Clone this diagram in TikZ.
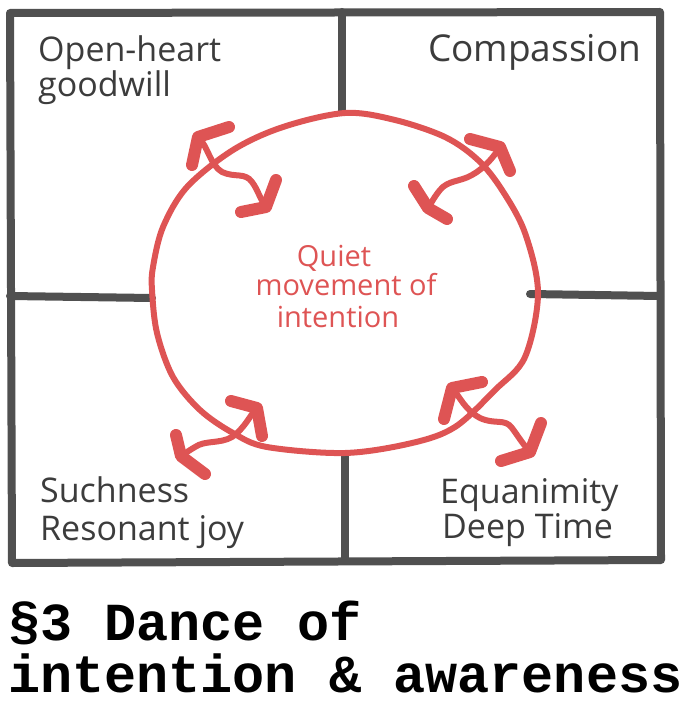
\documentclass[tikz,border=0pt]{standalone}
\usepackage{fontspec}
\setmainfont{Open Sans}
\newfontfamily\capfont{Liberation Mono}
\definecolor{boxgray}{RGB}{80,80,80}
\definecolor{inkgray}{RGB}{60,60,60}
\definecolor{sketchred}{RGB}{222,84,84}
\tikzset{
  frame/.style={draw=boxgray, line width=8pt, line cap=round, line join=round},
  ring/.style={draw=sketchred, line width=6pt},
  dance/.style={draw=sketchred, line width=6pt, line cap=round},
  barb/.style={draw=sketchred, line width=12pt, line cap=round, line join=round},
  hand/.style={text=inkgray, font=\fontsize{34}{34}\selectfont, anchor=base west, inner sep=0pt},
  redhand/.style={text=sketchred, font=\fontsize{29}{29}\selectfont, anchor=base, inner sep=0pt},
  caption/.style={text=black, font=\capfont\bfseries\fontsize{53.5}{53.5}\selectfont, anchor=base west, inner sep=0pt}
}
\begin{document}
\begin{tikzpicture}[x=1pt, y=-1pt]
\useasboundingbox (0,0) rectangle (691,709);
% frame
\draw[frame] (10,13) -- (660,12) -- (661,560) -- (12,563) -- cycle;
\draw[frame] (342,12) -- (342,112);
\draw[frame] (345,455) -- (345,560);
\draw[frame] (10,296) -- (152,298);
\draw[frame] (530,294) -- (660,296);
% circle
\draw[ring] plot[smooth cycle, tension=0.55] coordinates {
  (345,113) (395,120) (445,137) (478,160) (502,190) (525,233) (538,293)
  (525,357) (495,390) (455,427) (412,443) (345,453) (267,447) (233,433)
  (200,410) (173,377) (157,333) (152,290) (153,267) (163,227) (187,187)
  (233,150) (283,127)};
% arrow tips
\coordinate (a1) at (198,137); \coordinate (a2) at (266,207);
\coordinate (b1) at (500,147); \coordinate (b2) at (428,208);
\coordinate (c1) at (257,408); \coordinate (c2) at (181,456);
\coordinate (d1) at (452,388); \coordinate (d2) at (530,452);
% shafts
\draw[dance] (a1) .. controls (208,146) and (210,165) .. (222,172)
  .. controls (235,178) and (245,172) .. (252,182)
  .. controls (258,190) and (259,197) .. (a2);
\draw[dance] (b1) .. controls (495,155) and (485,168) .. (472,175)
  .. controls (460,182) and (448,180) .. (440,190)
  .. controls (435,196) and (433,200) .. (b2);
\draw[dance] (c1) .. controls (250,415) and (245,428) .. (232,437)
  .. controls (220,444) and (205,440) .. (195,447)
  .. controls (190,450) and (187,452) .. (c2);
\draw[dance] (d1) .. controls (460,397) and (465,410) .. (480,418)
  .. controls (495,425) and (505,418) .. (512,428)
  .. controls (518,436) and (522,443) .. (d2);
% heads
\draw[barb] (229,127) -- (a1) -- (192,165);
\draw[barb] (276,180) -- (a2) -- (241,212);
\draw[barb] (470,139) -- (b1) -- (510,171);
\draw[barb] (414,186) -- (b2) -- (447,219);
\draw[barb] (231,401) -- (c1) -- (262,436);
\draw[barb] (176,435) -- (c2) -- (205,474);
\draw[barb] (482,382) -- (d1) -- (444,419);
\draw[barb] (541,423) -- (d2) -- (501,461);
% corner labels
\node[hand] (og1) at (38,62) {Open-heart};
\node[hand] (og2) at (38,96) {goodwill};
\node[hand] (cp) at (428,62) {\fontsize{37}{37}\selectfont Compassion};
\node[hand] (sj1) at (40,502) {Suchness};
\node[hand] (sj2) at (40,540) {Resonant joy};
\node[hand] (eq1) at (440,503) {Equanimity};
\node[hand] (eq2) at (442,538) {Deep Time};
% centre label
\node[redhand] (q1) at (334,266) {Quiet};
\node[redhand] (q2) at (346,295) {movement of};
\node[redhand] (q3) at (338,327) {intention};
% caption
\node[caption] (t1) at (8,640) {§3 Dance of};
\node[caption] (t2) at (8,692) {intention \& awareness};
\end{tikzpicture}
\end{document}
